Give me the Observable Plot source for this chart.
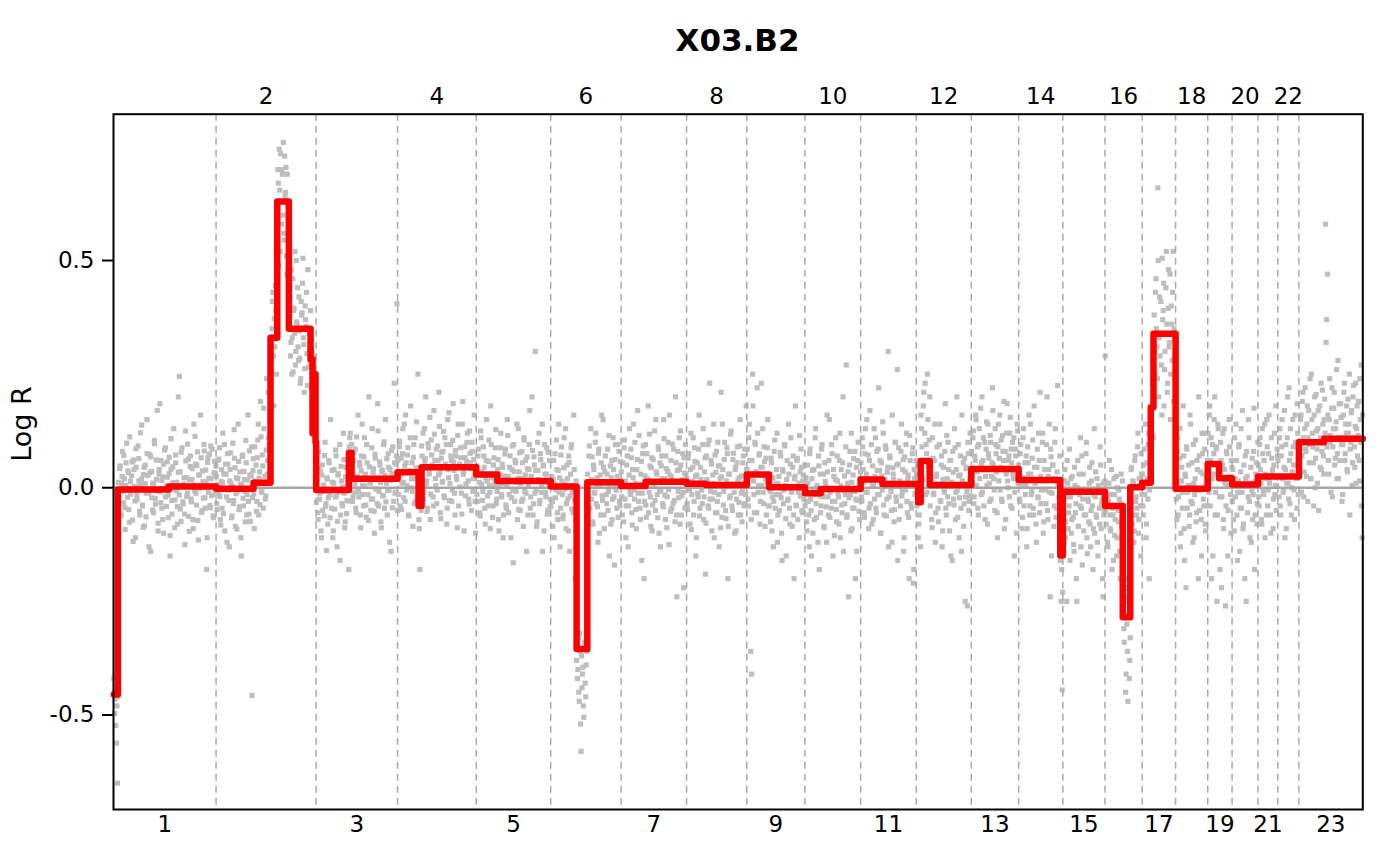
<!DOCTYPE html>
<html>
<head>
<meta charset="utf-8">
<script src="https://cdn.jsdelivr.net/npm/d3@7"></script>
<script src="https://cdn.jsdelivr.net/npm/@observablehq/plot@0.6"></script>
<style>
  html, body { margin: 0; padding: 0; background: #fff; }
  #wrap { position: relative; width: 1400px; height: 866px; overflow: hidden; font-family: "DejaVu Sans", sans-serif; }
  #title { position: absolute; left: 113px; width: 1249px; top: 25px; text-align: center;
           font: bold 31px/30px "DejaVu Sans", sans-serif; color: #000; }
  #chart { position: absolute; left: 0; top: 60px; }
</style>
</head>
<body>
<div id="wrap">
  <div id="title">X03.B2</div>
  <div id="chart"></div>
</div>
<script>
// Chromosomes (hg19 lengths, Mb)
const chromNames = ["1","2","3","4","5","6","7","8","9","10","11","12","13","14","15","16","17","18","19","20","21","22","23"];
const chromLengths = [249.25, 243.20, 198.02, 191.15, 180.92, 171.12, 159.14, 146.36, 141.21, 135.53, 135.01, 133.85, 115.17, 107.35, 102.53, 90.35, 81.20, 78.08, 59.13, 63.03, 48.13, 51.30, 155.27];

// Segments (chromosome, start Mb, end Mb, mean log R)
const segChrom = [1,1,1, 2,2,2,2,2,2,2,2,2, 3,3,3, 4,4,4, 5,5, 6,6,6, 7,7, 8,8, 9,9, 10,10, 11,11, 12,12,12,12, 13, 14,14, 15, 16,16,16, 17,17,17, 18, 19,19, 20, 21, 22, 23,23];
const segStart = [0.8,10.5,134.4, 0,91.1,132.4,148.7,176.9,229.7,234.5,238.2,241.8, 0,79.6,86.1, 0,51.0,58.3, 0,51.2, 0,63.0,89.0, 0,59.6, 0,46.4, 0,53.9, 0,38.3, 0,52.8, 0,4.8,10.9,32.8, 0, 0,101.1, 0, 0,43.1,61.3, 0,20.8,27.4, 0, 0,27.6, 0, 0, 0, 0,61.2];
const segEnd = [10.5,134.4,249.25, 91.1,132.4,148.7,176.9,229.7,234.5,238.2,241.8,243.2, 79.6,86.1,198.02, 51.0,58.3,191.15, 51.2,180.92, 63.0,89.0,171.12, 59.6,159.14, 46.4,146.36, 53.9,141.21, 38.3,135.53, 52.8,135.01, 4.8,10.9,32.8,133.85, 115.17, 101.1,107.35, 102.53, 43.1,61.3,90.35, 20.8,27.4,81.2, 78.08, 27.6,59.13, 63.03, 48.13, 51.3, 61.2,155.27];
const segLogR = [-0.455,-0.004,0.003, -0.002,0.011,0.33,0.63,0.35,0.283,0.12,0.25,0.10, -0.005,0.077,0.02, 0.034,-0.04,0.045, 0.029,0.015, 0.003,-0.355,0.012, 0.004,0.013, 0.009,0.006, 0.029,0.001, -0.012,-0.003, 0.018,0.008, 0.008,-0.032,0.059,0.006, 0.041, 0.017,-0.149, -0.009, -0.04,-0.285,0.001, 0.011,0.177,0.339, -0.002, 0.052,0.021, 0.007, 0.025, 0.025, 0.100,0.108];

// Probe log R values per chromosome (thousandths), in genomic order — probe set A
const logRValuesA = [
"-420 -497 -523 -562 -650 12 -35 48 -62 25 -8 71 -44 5 98 -21 33 -76 14 -3 57 -118 40 -29 86 -15 2 64 -52 121 19 -38 -87 45 9 -64 150 27 -11 73 -140 36 -49 8 104 -24 61 -7 -95 30 185 -33 16 -70 52 -2 88 -41 23 -16 67 -105 41 -58 11 130 -27 55 -6 -80 34 245 -47 78 3 -36 22 -125 59 -19 96 -63 17 70 -31 42 -90 6 113 -12 49 -72 28 -1 160 -54 37 -23 81 -45 13 -110 66 21 -39 92 -17 4 -66 58 31",
"25 -48 7 63 -19 -82 40 11 -57 95 -4 30 -120 52 -28 15 77 -66 3 -35 128 44 -13 -91 20 58 -42 8 -150 69 -23 36 -8 104 -60 17 -30 81 -74 26 -457 38 -14 90 5 -52 66 140 21 -37 112 -9 48 175 12 -25 83 30 210 95 165 330 250 410 290 372 445 520 610 700 488 655 735 580 690 760 545 640 705 470 620 410 355 290 480 330 255 395 520 300 365 440 280 345 230 410 385 505 315 262 370 430 225 350 300 275 330 180 240 120 290 160",
"-32 15 -70 44 -12 -95 28 -50 6 71 -41 -138 19 -22 55 -66 -5 38 -110 10 -47 83 -18 -74 31 -9 -160 47 -35 2 62 -88 24 -57 13 -29 90 120 65 35 -20 78 8 -45 112 24 -8 56 -60 37 140 -15 68 3 -38 95 18 -72 46 10 -25 130 33 -52 74 -3 21 185 -40 57 12 -88 39 -17 101 27 -31 64 -6 45 -120 16 82 -44 30 230 -12 52 405",
"60 -15 102 28 -48 75 12 140 -30 55 5 88 -62 36 180 20 -8 67 -35 110 44 -20 250 -70 -180 -10 92 38 -25 130 64 8 -52 97 30 155 -14 72 46 -40 118 20 85 -5 60 210 33 -68 78 14 124 -22 52 95 -45 40 165 9 70 -30 104 56 -12 82 25 -88 140 48 2 66 -58 190 35 90 -18 58 120 15 -36 76 42 100 -8 62 28 -100",
"48 -30 85 12 -62 110 35 -8 70 -45 22 150 -18 58 5 -90 95 30 -40 66 14 128 -25 40 -70 8 88 -15 52 -110 26 74 -38 3 115 -55 45 18 -22 92 -165 36 60 -8 140 20 -48 77 10 -30 55 -85 105 28 -12 68 -60 40 170 -20 15 82 -35 50 300 -5 -75 38 120 -28 62 6 -140 48 95 -10 30 -58 78 15 -42",
"-40 25 -85 60 8 -22 105 -55 38 -10 -130 72 15 -68 44 -3 130 -35 20 -95 56 -18 88 -47 5 160 -28 -70 -380 -420 -330 -470 -360 -580 -440 -395 -505 -345 -460 -300 30 -55 92 12 -25 68 -80 40 -12 120 4 -42 76 -100 28 55 -18 150 -60 35 10 -35 85 -8 -150 48 22 -70 110 -20 62 0 -45 95 16 -30 58",
"35 -60 12 88 -25 -110 50 5 -40 130 -15 66 -82 22 -5 100 -48 40 170 -30 8 -70 58 -12 92 -200 26 -38 75 10 -55 118 -20 44 -95 62 3 -28 150 30 -66 84 -8 -130 48 20 -42 108 -16 70 -88 36 -4 160 -52 24 96 -34 12 -75 55 -240 80 -22 40 125 -60 18 -10 66 -45 30",
"20 -48 75 -5 40 -92 14 110 -30 58 -150 28 -12 85 -62 45 6 -35 130 -20 66 -78 18 95 -45 230 -8 52 -25 10 -110 72 34 -55 100 -15 48 -88 24 140 -38 62 2 -68 88 -200 30 -22 118 8 -50 76 -10 40 -95 55 16 -32 92 -60 26 -5 70 -40 12 180",
"40 -25 110 60 -360 -410 250 15 -55 95 30 220 -10 72 -80 45 5 130 -35 58 20 -60 88 12 -40 -8 65 -95 22 -30 105 -15 40 -120 8 -50 78 -22 -160 36 -5 92 -68 18 -28 140 -45 52 -10 -85 70 -200 25 -38 60 -70 10 115 -18 45 -55 28 -2",
"-40 22 -95 10 -60 75 -25 -150 38 -8 -70 110 -35 5 -120 48 -18 -55 85 -10 30 -88 14 -42 160 -20 60 -65 -5 95 -30 40 -105 18 -48 70 -12 -80 120 4 -38 55 -140 26 -15 270 -60 35 -22 80 -95 12 -45 64 -8 -200 45 -28 100 -52 20",
"55 -30 90 12 -65 130 30 -10 72 -45 170 20 -80 48 5 -25 110 -55 38 85 -15 60 -100 26 145 -38 8 92 -62 34 300 -20 66 -8 -120 44 18 -48 100 -30 260 52 -70 14 80 -18 40 -140 68 -5 120 -55 28 -200 60 -35 10 88 -180 20 -12",
"30 -20 -110 -60 45 160 90 20 210 120 -15 75 250 48 105 -40 22 -88 65 -12 140 -55 30 8 -75 95 -28 50 -130 18 -5 80 -45 115 -20 40 -95 60 12 -160 34 -38 88 -10 200 -65 26 -22 70 -140 15 55 -35 -250 42 -8 100 -50 20 -18",
"80 10 125 -20 60 150 35 -45 95 20 175 55 -10 110 40 -70 85 5 140 65 -30 100 25 220 50 -5 130 75 -55 90 15 160 45 -25 115 60 -90 80 30 185 0 70 120 -40 55 100 20 -150 85 40 140 10",
"40 -30 95 8 -65 130 22 -15 70 -90 55 160 -40 30 -8 105 -60 45 12 -120 85 -22 60 210 -35 18 120 -75 40 -5 95 -50 25 140 -240 68 -12 50 -85 100 20 -45 225 10 -25 -160 -250 -445",
"-30 -120 40 -75 -250 10 -55 85 -20 -100 25 -65 -140 5 -35 -250 60 -85 -15 110 -45 -170 30 -60 -10 75 -110 -25 -75 45 -130 15 -40 -90 130 -20 -60 20 -150 -5 -80 50 -35 -200 10 -50",
"290 -80 -20 -130 10 -60 -95 40 -45 -160 -15 -70 25 -110 -50 -5 -140 -35 -85 15 -260 -340 -200 -410 -300 -470 -250 -380 -30 45 -60 10 -95 70 -20 -45 120 -70 5 -150 30",
"30 -60 85 10 -110 55 -25 120 -5 70 160 230 110 380 250 460 310 660 200 420 340 270 505 390 180 300 440 360 230 480 320 150 400 280 520 350 240",
"40 -70 110 -20 65 -130 15 -45 180 -90 30 -220 85 -10 50 -60 140 5 -35 95 -110 20 -75 60 -5 200 -50 35 -150 75 -25 120 -80 10 -40",
"120 -10 180 60 -200 95 30 150 -60 85 -250 140 40 -20 100 -220 50 -70 130 10 -40 75 -150 25 90 -15 60",
"-30 60 -95 20 140 -60 -10 90 -140 35 -45 170 -80 5 70 -250 25 -20 110 -110 45 -5 -70 80 -180 15 55 -35",
"50 -40 110 10 -80 75 -15 140 30 -60 90 -5 160 20 -100 65 40 -25 120 5 -50 85",
"60 -20 130 -60 90 20 -5 170 40 -90 110 10 220 -35 75 0 150 50 -70 100 25 185 -15",
"100 40 160 70 210 -20 130 85 25 180 110 55 240 20 150 90 -40 200 65 125 10 170 100 45 230 80 140 30 195 580 370 470 60 150 115 -10 220 90 175 50 130 260 75 20 185 110 155 -30 95 210 60 140 180 35 120 250 85 165 5 200 110 45 230 130 70 190 15 150 270 -110"
];

// Probe set B (thousandths), in genomic order
const logRValuesB = [
"-450 -465 -445 -480 -460 -18 42 -57 9 80 -33 20 -92 55 -6 37 -48 112 -14 26 -71 61 3 -110 45 -26 92 15 -60 7 138 -40 29 -84 50 -12 75 -5 -130 33 68 -22 10 -55 97 -36 18 170 -78 40 -9 60 -45 24 -100 83 -20 4 57 -66 31 -150 108 -28 46 -3 -88 72 12 -41 200 -16 35 -74 88 -31 8 -58 125 22 -12 63 -96 47 -25 18 -70 140 -7 52 -38 79 -115 28 1 66 -50 14 95 -22 39 -180 56 -10 74 -44 20 85 -62 33 -15 48",
"-35 60 -12 88 -70 14 -45 120 30 -95 52 -20 75 -5 -130 40 10 -62 98 -28 65 -85 22 -8 140 -48 35 -110 6 72 -40 18 -75 55 -15 160 -58 28 -3 90 -22 64 -90 15 50 -30 105 -60 35 190 -10 72 -45 130 25 -18 240 60 110 20 200 280 350 430 180 310 390 250 580 670 745 520 630 700 600 560 730 650 510 690 595 375 420 320 250 460 390 340 270 500 360 310 420 285 240 380 450 330 210 400 355 295 480 265 340 390 220 300 270 200 130 190",
"18 -55 80 -25 35 -110 50 -8 -62 100 -35 22 -80 60 -15 150 -45 12 -95 40 -20 70 -130 28 -5 95 -60 15 -40 120 -12 -75 45 -28 8 -180 110 40 95 -30 60 -10 85 -55 25 160 -20 48 -88 70 5 -40 110 30 -65 55 -15 200 12 -50 88 -25 42 -100 65 20 -35 125 -8 50 -75 35 -18 95 -45 150 10 -60 75 -5 40 -140 28 90 -30 55 -10 70 -50",
"25 90 -40 65 10 130 -22 48 160 -5 72 -60 38 110 0 55 -85 95 20 -30 145 40 -15 -90 20 -50 70 120 -10 58 200 15 -45 88 35 -70 105 50 -20 170 60 5 -35 92 28 135 -55 65 12 80 -18 110 45 -80 150 22 -28 95 60 -5 185 38 -60 70 18 115 -40 52 88 -12 140 30 -95 66 8 100 48 -25 125 55 -50 80 20 160 -30 45",
"-15 70 30 -55 125 8 -28 90 45 -80 60 15 -40 105 -10 180 22 -65 50 5 88 -35 -8 62 -95 30 120 -20 45 -60 10 85 -45 150 25 -15 70 -110 40 -5 95 -30 55 12 -70 130 35 -50 20 80 -25 110 -8 60 -140 42 5 95 -45 25 200 -60 68 -12 38 -85 100 18 -35 75 -10 140 50 -95 30 -20 88 -50 12 60 -25",
"60 -30 18 -110 75 -5 40 -70 140 22 -45 90 -15 -60 110 8 -90 50 -25 70 -140 30 95 -8 -55 40 -200 15 -350 -400 -450 -320 -520 -370 -410 -480 -340 -430 -390 -360 -20 70 -45 130 18 -75 50 -10 100 -35 22 -120 85 5 -60 160 -28 45 -90 70 -15 30 -50 115 8 -80 60 -25 40 -170 95 -5 25 -65 80 -40 15",
"-20 55 -75 105 15 -40 70 -130 28 -8 85 -55 40 140 -25 10 -90 62 -12 115 -45 30 -160 75 5 -30 95 -65 20 180 -10 48 -85 66 -38 12 125 -50 35 -15 90 -100 55 -5 70 -35 150 20 -70 42 -20 100 -125 28 60 -45 15 85 -28 200 -60 38 -8 110 -80 50 -18 75 -220 32 95 -40",
"-35 65 10 -80 120 -15 45 -60 88 25 -110 55 -20 160 -45 18 -5 95 -70 35 -190 70 12 -40 105 -25 60 -95 28 140 -10 -55 80 -30 48 -130 20 210 -65 40 -8 100 -50 15 75 -85 30 -18 125 -40 62 5 -100 45 -25 90 -60 22 150 -12 -75 55 -35 85 -15 40",
"85 -40 140 20 -70 60 180 -15 100 35 -55 120 5 75 -30 230 45 -10 90 -85 65 15 150 -40 30 -75 55 -20 -130 80 -45 10 120 -60 25 -15 70 -100 40 -35 95 5 -150 60 -25 30 -80 110 -5 45 -60 20 180 -40 65 -10 -110 35 85 -50 15 -25 50",
"10 -75 50 -30 -130 85 -50 20 -100 40 -15 130 -65 -5 70 -180 30 -40 95 -20 -85 55 5 -120 35 -60 150 -10 -45 75 -150 25 -30 110 -75 15 -20 60 -110 40 -55 200 -5 -35 90 -65 10 -240 50 -15 120 -90 28 -45 80 -25 -140 60 0 -70 35",
"-20 110 40 -55 75 -10 150 20 -90 60 -35 95 5 -70 130 25 -45 80 -15 220 38 -100 55 -5 120 -60 18 85 -25 45 -130 70 10 -50 160 30 -75 100 -20 50 -160 88 15 -40 140 -8 62 -110 35 95 -30 20 -65 115 5 -45 75 -210 40 -15 60",
"-40 50 -80 10 -130 130 20 180 60 230 95 -10 150 40 200 30 -70 110 -15 60 -120 25 90 -45 5 140 -30 70 -95 45 -10 185 -60 20 100 -35 60 -150 12 80 -25 130 -70 40 -5 95 -110 28 -45 160 10 -85 65 -20 45 -260 75 -30 120 5",
"30 110 -35 70 160 5 90 -60 130 45 -15 200 60 -40 100 25 145 -80 75 10 115 -25 55 170 20 -50 95 35 -110 140 65 -5 105 -30 80 190 40 -70 120 15 60 -20 155 85 -45 30 110 -10 70 -100 125 50",
"-25 75 20 -90 110 -40 55 5 -130 90 30 -60 140 -15 65 -45 180 10 -80 45 -20 120 -55 25 -5 100 -100 60 15 -35 200 -70 40 -10 85 -150 50 20 -40 130 -65 35 5 -20 70 -120 -180 -230",
"-60 15 -110 -20 60 -90 -40 -160 20 -70 -5 -125 45 -55 -200 0 -85 30 -40 -130 70 -25 -95 -10 -60 100 -145 -30 10 -80 -50 55 -180 -15 -100 35 -65 -120 5 -45 90 -90 -25 -240 -60 15",
"-50 10 -120 -30 60 -90 -15 -180 -60 20 -105 -40 -150 0 -75 -25 -200 30 -65 -110 -310 -240 -450 -280 -360 -220 -420 -330 40 -80 15 -120 60 -30 -60 90 -100 20 -40 75 -15",
"-40 50 -15 140 -80 20 95 -200 35 60 120 280 200 300 430 350 240 500 330 290 410 160 370 450 260 340 520 210 395 310 470 250 360 430 190 330 290",
"-25 80 -60 15 130 -100 45 -10 70 -160 25 90 -45 5 -85 160 -30 55 -120 10 -15 105 -55 40 -200 70 -5 -70 120 30 -40 85 -95 20 60",
"50 160 -40 110 20 -150 75 200 -10 90 -60 130 30 -180 60 -20 120 -90 40 -260 80 5 -50 150 20 -100 45",
"40 -70 110 -20 60 -160 15 95 -45 130 -10 -90 50 -200 20 80 -55 150 -30 10 -120 65 -15 175 -60 30 -80 100",
"-20 95 40 -70 130 -5 60 -110 20 150 -40 75 10 -60 110 30 -90 50 -15 180 5 70",
"25 110 -40 70 150 -10 45 -110 95 10 200 -25 60 130 -60 35 90 -5 160 20 -45 120 50",
"60 150 -10 190 110 35 220 80 140 -30 170 95 20 250 120 55 160 0 205 85 130 -50 180 110 40 215 70 150 120 320 90 160 30 240 100 175 -20 130 210 65 145 20 280 110 60 185 95 -15 160 230 75 120 40 195 140 -60 100 170 55 225 90 135 10 180 115 60 240 100 -40 160"
];

const yTicks = [-0.5, 0, 0.5];

// ---- derived tables ----
const offsets = Array.from(d3.cumsum([0, ...chromLengths.slice(0, -1)]));
const total = d3.sum(chromLengths);
const boundaries = offsets.slice(1);

function probes(strings, phase) {
  return strings.flatMap((s, c) => {
    const v = s.trim().split(/\s+/).map(Number);
    return v.map((d, i) => ({ pos: offsets[c] + (i + phase) / v.length * chromLengths[c], logR: d / 1000 }));
  });
}
const points = probes(logRValuesA, 0.25).concat(probes(logRValuesB, 0.75));

const steps = segChrom.map((c, i) => ({ pos: offsets[c - 1] + segStart[i], logR: segLogR[i] }));
const lastI = segChrom.length - 1;
steps.push({ pos: offsets[segChrom[lastI] - 1] + segEnd[lastI], logR: segLogR[lastI] });

const chromLabels = chromNames.map((name, i) => ({ name, mid: offsets[i] + chromLengths[i] / 2, even: (i + 1) % 2 === 0 }));

const chart = Plot.plot({
  width: 1400,
  height: 806,
  marginTop: 53.7,
  marginBottom: 57,
  marginLeft: 113,
  marginRight: 37.7,
  x: { domain: [0, total], axis: null },
  y: { domain: [-0.708, 0.822] },
  style: { fontFamily: "DejaVu Sans, sans-serif", background: "white", overflow: "visible", color: "black" },
  marks: [
    Plot.dot(points, { x: "pos", y: "logR", symbol: "square", r: 2.9, fill: "#bebebe", stroke: null }),
    Plot.ruleX(boundaries, { stroke: "#aaaaaa", strokeWidth: 1.5, strokeDasharray: "7,5" }),
    Plot.ruleY([0], { stroke: "#a6a6a6", strokeWidth: 2.5 }),
    Plot.line(steps, { x: "pos", y: "logR", curve: "step-after", stroke: "#ff0000", strokeWidth: 6.5, strokeLinejoin: "round", strokeLinecap: "round" }),
    Plot.frame({ stroke: "black", strokeWidth: 2 }),
    Plot.axisY(yTicks, { tickSize: 11, tickPadding: 8, fontSize: 23, tickFormat: d => d.toFixed(1), label: null, strokeWidth: 2 }),
    Plot.text(chromLabels.filter(d => d.even), { x: "mid", text: "name", frameAnchor: "top", dy: -27, fontSize: 23, fill: "black" }),
    Plot.text(chromLabels.filter(d => !d.even), { x: "mid", text: "name", frameAnchor: "bottom", dy: 22, fontSize: 23, fill: "black" }),
    Plot.text(["Log R"], { text: d => d, frameAnchor: "left", dx: -91, rotate: -90, fontSize: 27, fill: "black" })
  ]
});
document.getElementById("chart").appendChild(chart);
</script>
</body>
</html>
